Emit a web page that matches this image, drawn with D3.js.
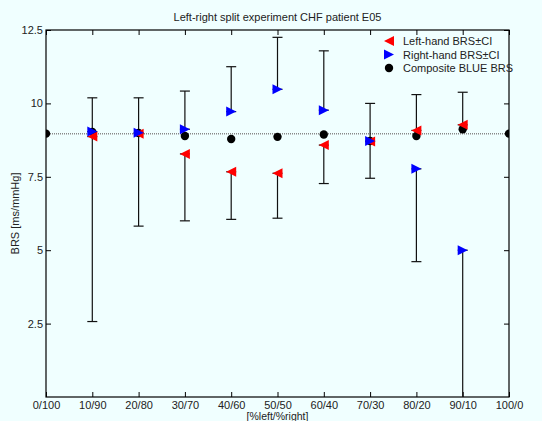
<!DOCTYPE html>
<html>
<head>
<meta charset="utf-8">
<script src="https://cdn.jsdelivr.net/npm/d3@7"></script>
<style>
  body { margin: 0; background: #f0ffff; }
  svg { display: block; font-family: "Liberation Sans", Arial, sans-serif; }
</style>
</head>
<body>
<div id="chart"></div>
<script>
// categories along x, share of left/right hand
const categories = ["0/100", "10/90", "20/80", "30/70", "40/60", "50/50", "60/40", "70/30", "80/20", "90/10", "100/0"]
const splitCats = categories.slice(1, 10)

// left-hand BRS and the end of its one-sided CI bar
const leftBRS = [8.87, 8.97, 8.28, 7.67, 7.62, 8.58, 8.70, 9.08, 9.27]
const leftCI = [2.57, 5.82, 6.0, 6.05, 6.09, 7.27, 10.0, 10.3, 10.38]

// right-hand BRS and the end of its one-sided CI bar
const rightBRS = [9.04, 9.0, 9.12, 9.72, 10.48, 9.77, 8.72, 7.77, 5.0]
const rightCI = [10.19, 10.19, 10.42, 11.25, 12.25, 11.79, 7.45, 4.61, -1.0]

// composite BLUE estimate, every category
const composite = [8.97, 9.03, 8.99, 8.89, 8.79, 8.86, 8.94, 8.72, 8.89, 9.12, 8.97]
const refLine = 8.97

const yTicks = [2.5, 5, 7.5, 10, 12.5]

const width = 542, height = 421,
    margin = { left: 46, right: 33, top: 30, bottom: 24 };

const svg = d3.select("#chart").append("svg")
    .attr("width", width)
    .attr("height", height)

svg.append("rect").attr("width", width).attr("height", height).attr("fill", "#f0ffff")

const x = d3.scalePoint().domain(categories).range([margin.left, width - margin.right])
const y = d3.scaleLinear().domain([0, 12.5]).range([height - margin.bottom, margin.top])

const x0 = margin.left, x1 = width - margin.right,
    y0 = height - margin.bottom, y1 = margin.top;

svg.append("defs").append("clipPath").attr("id", "plotclip")
    .append("rect").attr("x", x0).attr("y", y1).attr("width", x1 - x0).attr("height", y0 - y1)

// axes, ticks pointing inwards on all four sides
const tickLen = 5
const axL = svg.append("g").attr("transform", `translate(${x0},0)`)
    .call(d3.axisLeft(y).tickValues(yTicks).tickSize(-tickLen).tickPadding(3).tickFormat(d3.format("")))
const axR = svg.append("g").attr("transform", `translate(${x1},0)`)
    .call(d3.axisRight(y).tickValues(yTicks).tickSize(-tickLen).tickFormat(""))
const axB = svg.append("g").attr("transform", `translate(0,${y0})`)
    .call(d3.axisBottom(x).tickSize(-tickLen).tickPadding(4))
const axT = svg.append("g").attr("transform", `translate(0,${y1})`)
    .call(d3.axisTop(x).tickSize(-tickLen).tickFormat(""))

;[axL, axR, axB, axT].forEach(a => {
    a.select(".domain").remove()
    a.selectAll(".tick line").attr("stroke", "#000")
    a.selectAll("text").attr("font-size", 11).attr("fill", "#222").attr("font-family", "Liberation Sans, Arial, sans-serif")
})

svg.append("rect").attr("x", x0).attr("y", y1).attr("width", x1 - x0).attr("height", y0 - y1)
    .attr("fill", "none").attr("stroke", "#000").attr("stroke-width", 1.2)

const plot = svg.append("g").attr("clip-path", "url(#plotclip)")

// dotted reference line
plot.append("line")
    .attr("x1", x0).attr("x2", x1).attr("y1", y(refLine)).attr("y2", y(refLine))
    .attr("stroke", "#888").attr("stroke-width", 1.5).attr("stroke-dasharray", "1,1")

// error bars, one-sided from each marker
const capW = 5
function errorBars(vals, ends) {
    const g = plot.append("g").attr("stroke", "#111").attr("stroke-width", 1.2)
    splitCats.forEach((c, i) => {
        const cx = x(c)
        g.append("line").attr("x1", cx).attr("x2", cx).attr("y1", y(vals[i])).attr("y2", y(ends[i]))
        g.append("line").attr("x1", cx - capW).attr("x2", cx + capW).attr("y1", y(ends[i])).attr("y2", y(ends[i]))
        g.append("line").attr("x1", cx - capW).attr("x2", cx + capW).attr("y1", y(vals[i])).attr("y2", y(vals[i]))
    })
}
errorBars(leftBRS, leftCI)
errorBars(rightBRS, rightCI)

const tri = 5
const leftTri = `M${-tri},0L${tri},${-tri}L${tri},${tri}Z`
const rightTri = `M${tri},0L${-tri},${-tri}L${-tri},${tri}Z`

// composite dots
plot.selectAll(".comp").data(composite).enter().append("circle")
    .attr("cx", (d, i) => x(categories[i])).attr("cy", d => y(d)).attr("r", 4.2).attr("fill", "#000")

plot.selectAll(".left").data(leftBRS).enter().append("path")
    .attr("d", leftTri).attr("fill", "#ff0000")
    .attr("transform", (d, i) => `translate(${x(splitCats[i])},${y(d)})`)

plot.selectAll(".right").data(rightBRS).enter().append("path")
    .attr("d", rightTri).attr("fill", "#0000ff")
    .attr("transform", (d, i) => `translate(${x(splitCats[i])},${y(d)})`)

// title and axis labels
svg.append("text").attr("x", (x0 + x1) / 2).attr("y", 21).attr("text-anchor", "middle")
    .attr("font-size", 11).attr("fill", "#222").text("Left-right split experiment CHF patient E05")
svg.append("text").attr("x", (x0 + x1) / 2).attr("y", 420).attr("text-anchor", "middle")
    .attr("font-size", 10.5).attr("fill", "#222").text("[%left/%right]")
svg.append("text").attr("transform", `translate(19,${(y0 + y1) / 2}) rotate(-90)`).attr("text-anchor", "middle")
    .attr("font-size", 11).attr("fill", "#222").text("BRS [ms/mmHg]")

// legend
const legend = [
    { label: "Left-hand BRS\u00b1CI", kind: "left" },
    { label: "Right-hand BRS\u00b1CI", kind: "right" },
    { label: "Composite BLUE BRS", kind: "comp" }
]
const lg = svg.append("g").attr("transform", "translate(403,41)")
legend.forEach((d, i) => {
    const row = lg.append("g").attr("transform", `translate(0,${i * 13.5})`)
    if (d.kind === "comp") row.append("circle").attr("cx", -14).attr("r", 4.2).attr("fill", "#000")
    else row.append("path").attr("d", d.kind === "left" ? leftTri : rightTri)
        .attr("transform", "translate(-14,0)").attr("fill", d.kind === "left" ? "#ff0000" : "#0000ff")
    row.append("text").attr("y", 4).attr("font-size", 11).attr("fill", "#222").text(d.label)
})
</script>
</body>
</html>
